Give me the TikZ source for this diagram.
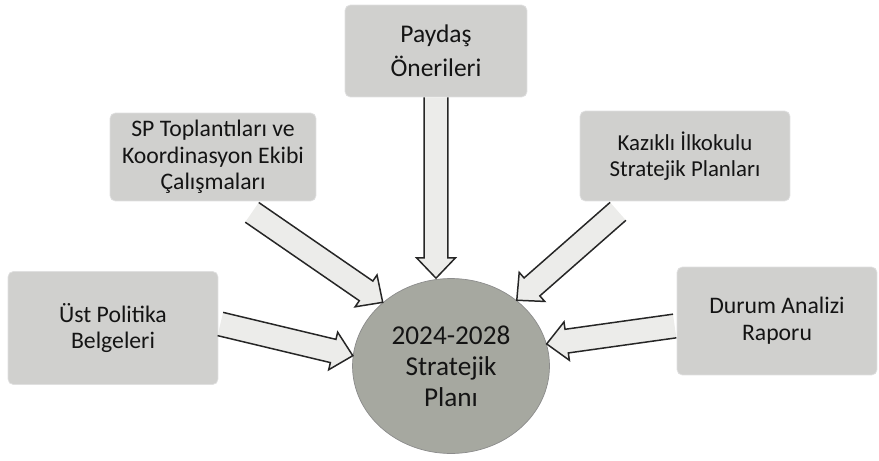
\documentclass[tikz,border=0pt]{standalone}
\usepackage{fontspec}
\setmainfont{Carlito}
\usetikzlibrary{shapes.geometric}

\definecolor{boxgray}{RGB}{208,208,206}
\definecolor{plangray}{RGB}{166,168,160}
\definecolor{arrowgray}{RGB}{236,236,234}

% hollow block arrow from #1 to #2
\def\shaft{6.8pt}
\def\head{11pt}
\newcommand{\blockarrow}[2]{%
    \path (#1); \pgfgetlastxy{\bax}{\bay}
    \path (#2); \pgfgetlastxy{\bbx}{\bby}
    \pgfmathsetmacro\bangle{atan2(\bby-\bay,\bbx-\bax)}
    \pgfmathsetmacro\blen{veclen(\bbx-\bax,\bby-\bay)}
    \pgfmathsetmacro\bneck{\blen-11.5}
    \begin{scope}[shift={(\bax,\bay)}, rotate=\bangle]
        \path[flow] (0pt,-\shaft) -- (\bneck pt,-\shaft) -- (\bneck pt,-\head)
            -- (\blen pt,0pt) -- (\bneck pt,\head) -- (\bneck pt,\shaft) -- (0pt,\shaft);
    \end{scope}}

\begin{document}
\begin{tikzpicture}[x=0.02cm, y=-0.02cm]
    \tikzstyle{source}=[rectangle, rounded corners=3pt, fill=boxgray, draw=black!12,
        align=center, inner sep=2pt, text=black!92, font=\fontsize{13.5}{15.2}\selectfont]
    \tikzstyle{plan}=[ellipse, fill=plangray, draw=black!45, align=center, inner sep=0pt,
        text=black!92, font=\fontsize{15.5}{17.6}\selectfont]
    \tikzstyle{flow}=[draw=black!85, line width=0.85pt, fill=arrowgray, line join=miter]

    \useasboundingbox (0,0) rectangle (879,460);

    \node[plan, minimum width=3.94cm, minimum height=3.5cm] (P) at (451,366)
        {2024-2028\\Stratejik\\Planı};

    \node[source, minimum width=3.64cm, minimum height=1.84cm,
        font=\fontsize{14.5}{19.3}\selectfont] (paydas) at (436,51) {Paydaş\\Önerileri};
    \node[source, minimum width=4.12cm, minimum height=1.76cm] (sp) at (213,157)
        {SP Toplantıları ve\\Koordinasyon Ekibi\\Çalışmaları};
    \node[source, minimum width=4.2cm, minimum height=1.8cm,
        font=\fontsize{13}{14.4}\selectfont] (kazikli) at (685,156)
        {Kazıklı İlkokulu\\Stratejik Planları};
    \node[source, minimum width=4.2cm, minimum height=2.26cm] (ust) at (113,328)
        {Üst Politika\\Belgeleri};
    \node[source, minimum width=4.0cm, minimum height=2.16cm] (durum) at (777,321)
        {Durum Analizi\\Raporu};

    \blockarrow{paydas.south}{paydas.south |- P.north}
    \blockarrow{[shift={(39,11)}]sp.south}{P.137}
    \blockarrow{[shift={(-67,10)}]kazikli.south}{P.45}
    \blockarrow{[shift={(2,-4)}]ust.east}{P.174}
    \blockarrow{[shift={(-2,5)}]durum.west}{P.13}

\end{tikzpicture}
\end{document}
